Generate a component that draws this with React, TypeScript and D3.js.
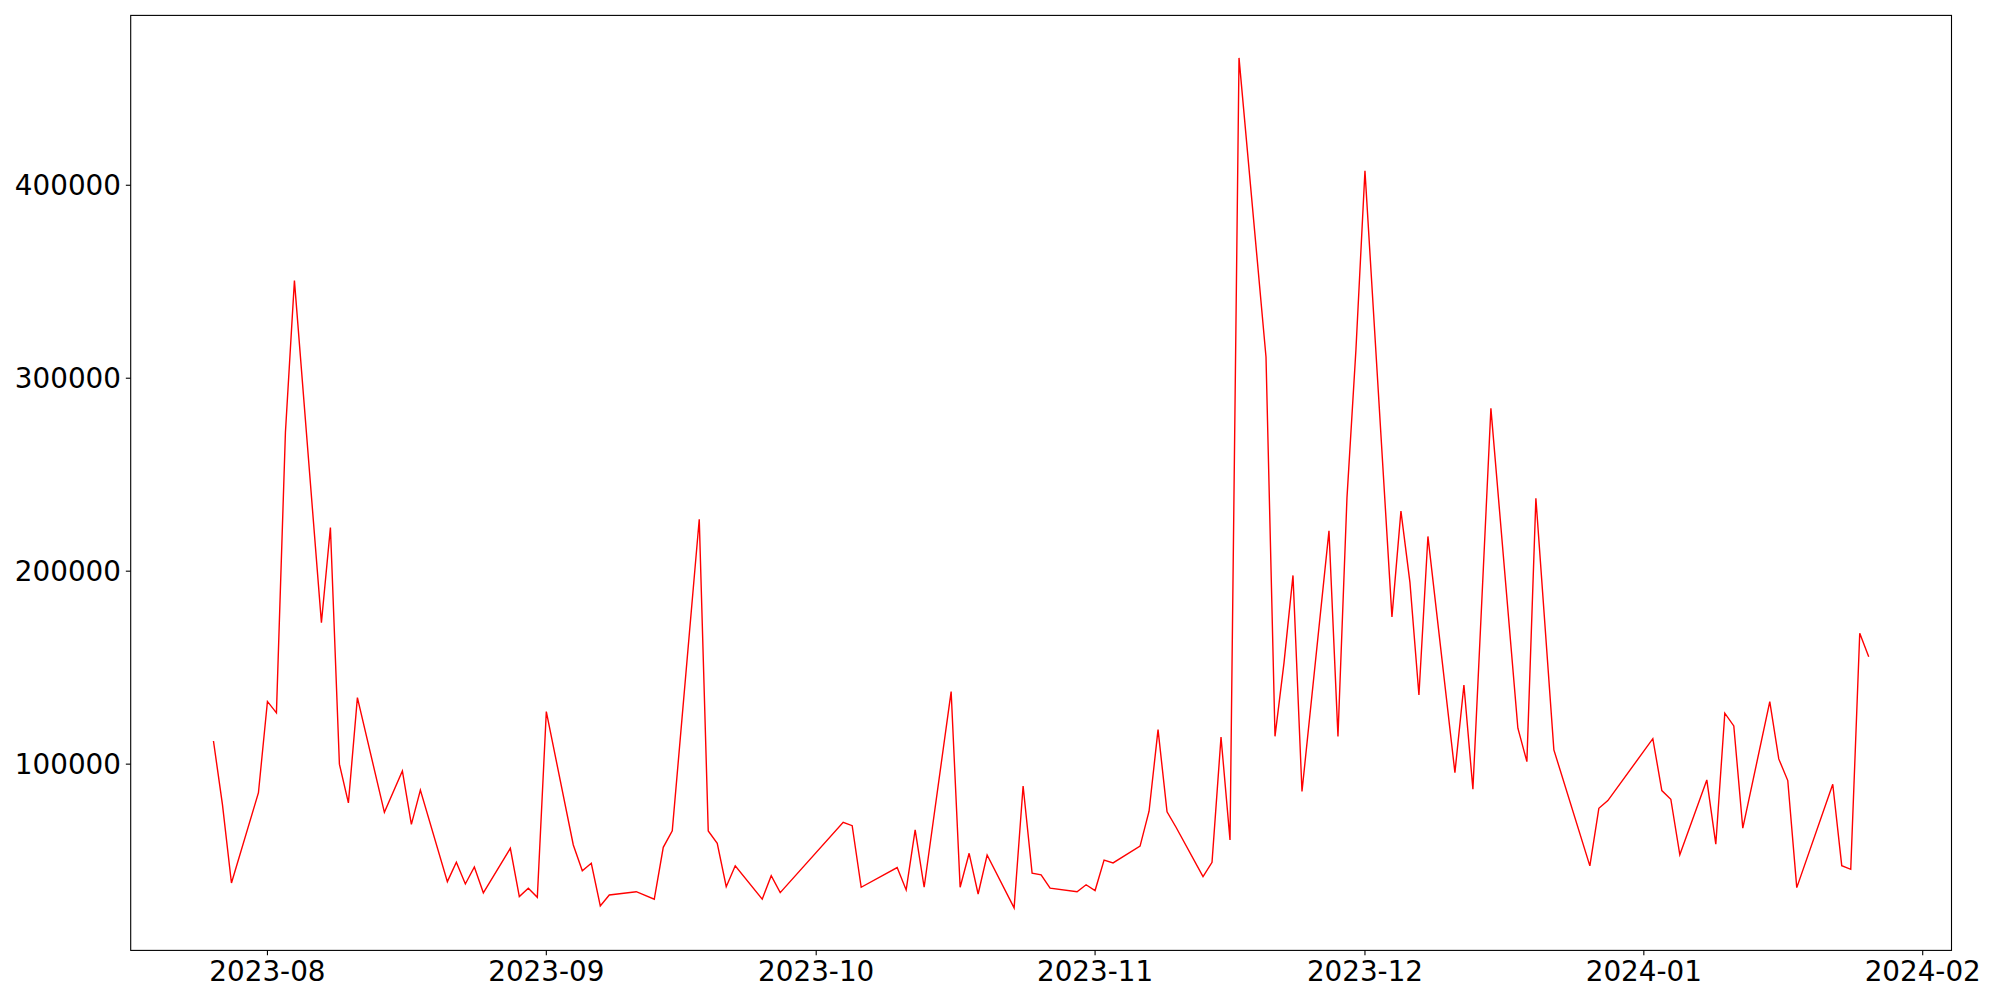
import React from "react";
import * as d3 from "d3";

const dates: string[] = [
  "2023-07-26","2023-07-27","2023-07-28","2023-07-31",
  "2023-08-01","2023-08-02","2023-08-03","2023-08-04",
  "2023-08-07","2023-08-08","2023-08-09","2023-08-10","2023-08-11",
  "2023-08-14","2023-08-16","2023-08-17","2023-08-18",
  "2023-08-21","2023-08-22","2023-08-23","2023-08-24","2023-08-25",
  "2023-08-28","2023-08-29","2023-08-30","2023-08-31",
  "2023-09-01",
  "2023-09-04","2023-09-05","2023-09-06","2023-09-07","2023-09-08",
  "2023-09-11","2023-09-13","2023-09-14","2023-09-15",
  "2023-09-18","2023-09-19","2023-09-20","2023-09-21","2023-09-22",
  "2023-09-25","2023-09-26","2023-09-27",
  "2023-10-04","2023-10-05","2023-10-06",
  "2023-10-10","2023-10-11","2023-10-12","2023-10-13",
  "2023-10-16","2023-10-17","2023-10-18","2023-10-19","2023-10-20",
  "2023-10-23","2023-10-24","2023-10-25","2023-10-26","2023-10-27",
  "2023-10-30","2023-10-31",
  "2023-11-01","2023-11-02","2023-11-03",
  "2023-11-06","2023-11-07","2023-11-08","2023-11-09","2023-11-10",
  "2023-11-13","2023-11-14","2023-11-15","2023-11-16","2023-11-17",
  "2023-11-20","2023-11-21","2023-11-22","2023-11-23","2023-11-24",
  "2023-11-27","2023-11-28","2023-11-29","2023-11-30",
  "2023-12-01",
  "2023-12-04","2023-12-05","2023-12-06","2023-12-07","2023-12-08",
  "2023-12-11","2023-12-12","2023-12-13","2023-12-15",
  "2023-12-18","2023-12-19","2023-12-20","2023-12-22",
  "2023-12-26","2023-12-27","2023-12-28",
  "2024-01-02","2024-01-03","2024-01-04","2024-01-05",
  "2024-01-08","2024-01-09","2024-01-10","2024-01-11","2024-01-12",
  "2024-01-15","2024-01-16","2024-01-17","2024-01-18",
  "2024-01-22","2024-01-23","2024-01-24","2024-01-25","2024-01-26",
];

const values: number[] = [
  112000, 79000, 38400, 85200,
  132500, 126600, 272000, 350600,
  173300, 222600, 100000, 79900, 134500,
  75000, 96500, 68800, 86600,
  39100, 49200, 37900, 46700, 33300,
  56400, 31400, 35700, 31000,
  127200,
  58100, 44700, 48600, 26500, 32200,
  33900, 30000, 56900, 65400,
  226900, 65400, 59000, 36500, 47300,
  30000, 42200, 33400,
  69900, 68100, 36200,
  46400, 34800, 65900, 36200,
  137600, 36200, 53800, 32700, 52900,
  25500, 88700, 43500, 42600, 35700,
  33900, 37500,
  34500, 50300, 48800,
  57500, 75600, 117900, 75300, 67300,
  41700, 49100, 114000, 60700, 466000,
  311000, 114400, 152500, 197800, 85800,
  220900, 114400, 238000, 315000,
  407500,
  176300, 231100, 194200, 135800, 218000,
  95600, 141000, 87000, 284400,
  118600, 101300, 237800, 107400,
  47300, 77100, 81100,
  113200, 86300, 81800, 53000,
  91800, 58500, 126400, 119800, 66800,
  132400, 102700, 91500, 36000,
  89600, 47400, 45500, 167800, 155700,
];

const yTickValues: number[] = [100000, 200000, 300000, 400000];

const W = 2000;
const H = 1000;
const L = 130.7;
const R = 1951.5;
const T = 15.4;
const B = 950.4;
const FONT = "'DejaVu Sans', sans-serif";
const FS = 27.8;
const TICK = 4.86;

export default function App() {
  const parse = d3.timeParse("%Y-%m-%d");
  const pts = dates.map((d, i) => ({ t: parse(d) as Date, v: values[i] }));

  const t0 = pts[0].t.getTime();
  const t1 = pts[pts.length - 1].t.getTime();
  const span = t1 - t0;
  const x = d3
    .scaleTime()
    .domain([new Date(t0 - 0.05 * span), new Date(t1 + 0.05 * span)])
    .range([L, R]);

  const [vmin, vmax] = d3.extent(values) as [number, number];
  const vr = vmax - vmin;
  const y = d3
    .scaleLinear()
    .domain([vmin - 0.05 * vr, vmax + 0.05 * vr])
    .range([B, T]);

  const line = d3
    .line<{ t: Date; v: number }>()
    .x((p) => x(p.t))
    .y((p) => y(p.v));

  const xTicks = x.ticks(d3.timeMonth.every(1) as d3.TimeInterval);
  const fmt = d3.timeFormat("%Y-%m");

  return (
    <svg
      width={W}
      height={H}
      style={{ position: "absolute", left: 0, top: 0, background: "#fff" }}
    >
      <rect x={0} y={0} width={W} height={H} fill="#fff" />
      <path d={line(pts) || ""} fill="none" stroke="#ff0000" strokeWidth={1.4} strokeLinejoin="miter" />
      <rect x={L} y={T} width={R - L} height={B - T} fill="none" stroke="#000" strokeWidth={1.1} />
      {xTicks.map((t, i) => (
        <g key={"x" + i}>
          <line x1={x(t)} x2={x(t)} y1={B} y2={B + TICK} stroke="#000" strokeWidth={1.1} />
          <text
            x={x(t)}
            y={B + 2 * TICK + 0.76 * FS}
            textAnchor="middle"
            fontFamily={FONT}
            fontSize={FS}
            fill="#000"
          >
            {fmt(t)}
          </text>
        </g>
      ))}
      {yTickValues.map((v, i) => (
        <g key={"y" + i}>
          <line x1={L - TICK} x2={L} y1={y(v)} y2={y(v)} stroke="#000" strokeWidth={1.1} />
          <text
            x={L - 2 * TICK}
            y={y(v) + 0.36 * FS}
            textAnchor="end"
            fontFamily={FONT}
            fontSize={FS}
            fill="#000"
          >
            {v}
          </text>
        </g>
      ))}
    </svg>
  );
}
